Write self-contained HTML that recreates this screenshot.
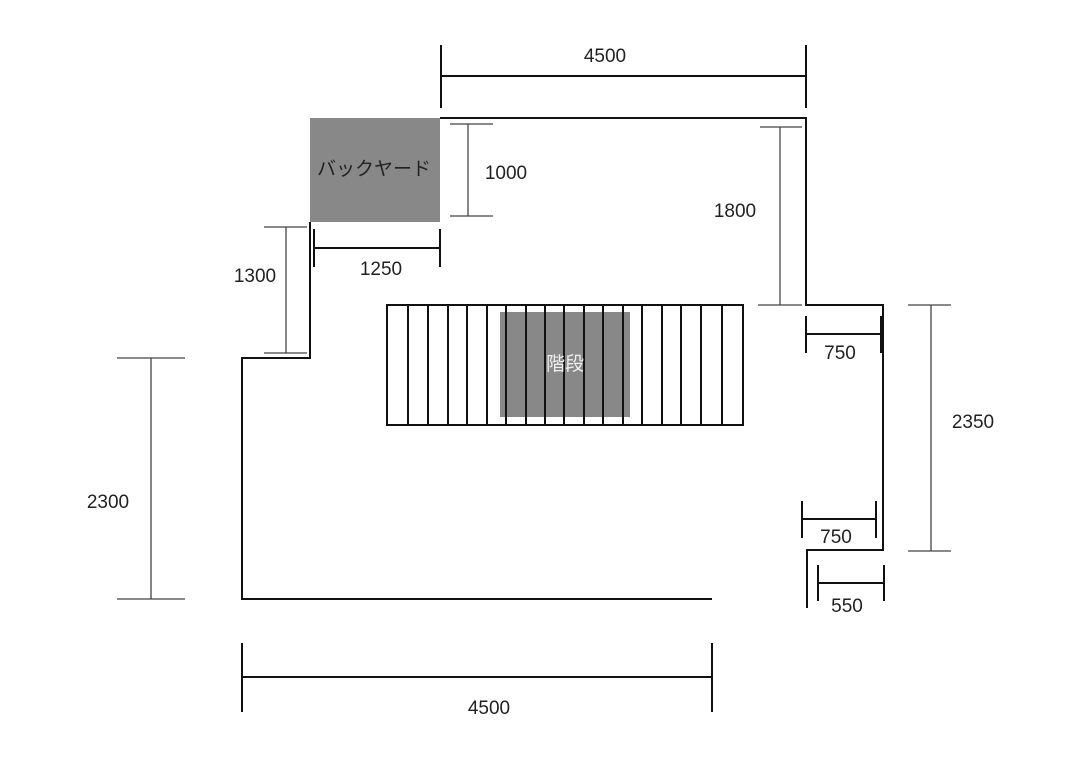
<!DOCTYPE html>
<html><head><meta charset="utf-8"><style>
html,body{margin:0;padding:0;background:#fff;}
svg{display:block;}
text{font-family:"Liberation Sans","Noto Sans CJK JP",sans-serif;font-size:19px;fill:#222;text-anchor:middle;}
</style></head><body>
<svg width="1083" height="766" viewBox="0 0 1083 766" xmlns="http://www.w3.org/2000/svg">
<rect x="310" y="118" width="130" height="104" fill="#888"/>
<text x="374" y="175" font-size="17">バックヤード</text>
<g fill="none" stroke="#111" stroke-width="2">
<polyline points="440,118 806,118 806,305 883,305 883,550 807,550 807,608"/>
<polyline points="310,222 310,358 242,358 242,599 712,599"/>
<rect x="387" y="305" width="356" height="120"/>
</g>
<rect x="500" y="312" width="130" height="105" fill="#888"/>
<g stroke="#111" stroke-width="2">
<line x1="408" y1="305" x2="408" y2="425"/><line x1="428" y1="305" x2="428" y2="425"/>
<line x1="448" y1="305" x2="448" y2="425"/><line x1="467" y1="305" x2="467" y2="425"/>
<line x1="487" y1="305" x2="487" y2="425"/><line x1="506" y1="305" x2="506" y2="425"/>
<line x1="526" y1="305" x2="526" y2="425"/><line x1="545" y1="305" x2="545" y2="425"/>
<line x1="564" y1="305" x2="564" y2="425"/><line x1="584" y1="305" x2="584" y2="425"/>
<line x1="603" y1="305" x2="603" y2="425"/><line x1="623" y1="305" x2="623" y2="425"/>
<line x1="642" y1="305" x2="642" y2="425"/><line x1="662" y1="305" x2="662" y2="425"/>
<line x1="681" y1="305" x2="681" y2="425"/><line x1="701" y1="305" x2="701" y2="425"/>
<line x1="722" y1="305" x2="722" y2="425"/>
</g>
<text x="565" y="370" fill="#eee" style="fill:#eee" font-size="17">階段</text>
<!-- bold dims -->
<g stroke="#111" stroke-width="2">
<line x1="441" y1="76" x2="806" y2="76"/><line x1="441" y1="45" x2="441" y2="108"/><line x1="806" y1="45" x2="806" y2="108"/>
<line x1="314" y1="248" x2="440" y2="248"/><line x1="314" y1="229" x2="314" y2="267"/><line x1="440" y1="229" x2="440" y2="267"/>
<line x1="806" y1="334" x2="881" y2="334"/><line x1="806" y1="316" x2="806" y2="353"/><line x1="881" y1="316" x2="881" y2="353"/>
<line x1="802" y1="519" x2="876" y2="519"/><line x1="802" y1="501" x2="802" y2="538"/><line x1="876" y1="501" x2="876" y2="538"/>
<line x1="818" y1="583" x2="884" y2="583"/><line x1="818" y1="565" x2="818" y2="601"/><line x1="884" y1="565" x2="884" y2="601"/>
<line x1="242" y1="677" x2="712" y2="677"/><line x1="242" y1="643" x2="242" y2="712"/><line x1="712" y1="643" x2="712" y2="712"/>
</g>
<!-- thin dims -->
<g stroke="#444" stroke-width="1.3">
<line x1="468" y1="124" x2="468" y2="216"/><line x1="450" y1="124" x2="493" y2="124"/><line x1="450" y1="216" x2="493" y2="216"/>
<line x1="780" y1="127" x2="780" y2="305"/><line x1="760" y1="127" x2="802" y2="127"/><line x1="758" y1="305" x2="802" y2="305"/>
<line x1="286" y1="227" x2="286" y2="353"/><line x1="264" y1="227" x2="307" y2="227"/><line x1="264" y1="353" x2="307" y2="353"/>
<line x1="151" y1="358" x2="151" y2="599"/><line x1="117" y1="358" x2="185" y2="358"/><line x1="117" y1="599" x2="185" y2="599"/>
<line x1="931" y1="305" x2="931" y2="551"/><line x1="908" y1="305" x2="951" y2="305"/><line x1="908" y1="551" x2="951" y2="551"/>
</g>
<text x="605" y="62">4500</text>
<text x="506" y="179">1000</text>
<text x="735" y="217">1800</text>
<text x="381" y="275">1250</text>
<text x="255" y="282">1300</text>
<text x="108" y="508">2300</text>
<text x="973" y="428">2350</text>
<text x="840" y="359">750</text>
<text x="836" y="543">750</text>
<text x="847" y="612">550</text>
<text x="489" y="714">4500</text>
</svg>
</body></html>
